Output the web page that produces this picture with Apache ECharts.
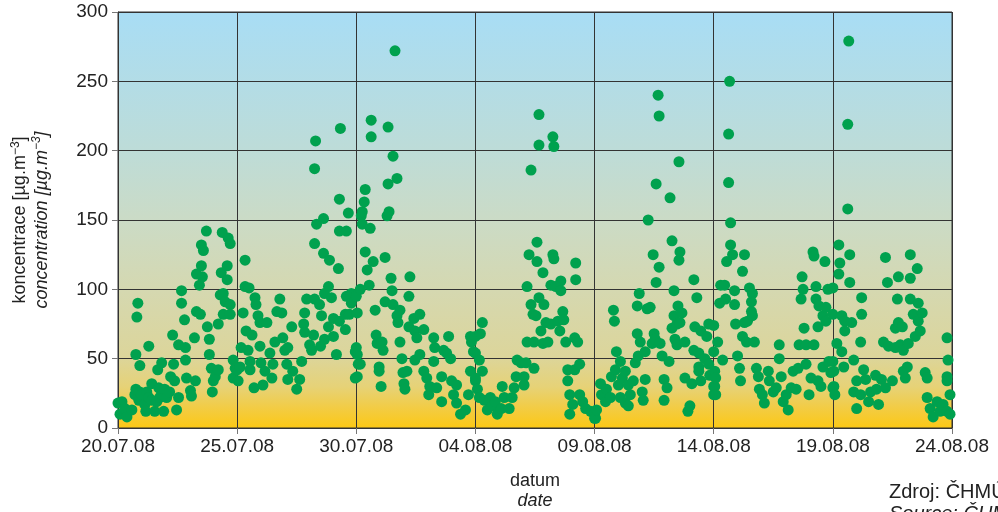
<!DOCTYPE html>
<html>
<head>
<meta charset="utf-8">
<script src="https://cdn.jsdelivr.net/npm/echarts@6/dist/echarts.min.js"></script>
<style>
  html, body { margin: 0; padding: 0; background: #fff; }
  #chart { width: 998px; height: 512px; }
</style>
</head>
<body>
<div id="chart"></div>
<script>
// x axis: hours since 20.07.08 00:00, one tick every 5 days
const xLabels = ["20.07.08", "25.07.08", "30.07.08", "04.08.08", "09.08.08", "14.08.08", "19.08.08", "24.08.08"];
const segHours = 120;

// hourly concentrations, [hour within 5-day block, value]
const seg1 = [[0,18],[2,10],[4,19],[7,14],[9,8],[14,13],[17,24],[18,28],[18,53],[19,80],[20,90],[21,20],[22,45],[22,26],[24,24],[27,17],[28,12],[29,26],[31,59],[31,22],[34,32],[34,20],[37,12],[39,19],[40,42],[41,29],[42,22],[44,47],[44,24],[46,12],[47,28],[49,22],[52,26],[53,37],[55,67],[56,46],[57,34],[59,13],[61,60],[61,22],[64,99],[64,90],[67,78],[68,58],[68,49],[69,36],[73,27],[74,23],[77,65],[78,34],[79,84],[79,111],[82,103],[83,82],[84,117],[84,132],[85,109],[86,128],[89,142],[90,73],[92,64],[92,53],[94,43],[95,26],[96,34],[98,37],[101,75],[101,42],[103,96],[104,112],[105,141],[106,97],[106,82],[108,91],[110,117],[110,107],[111,137],[113,133],[113,89],[113,82],[116,49],[116,36],[118,43]];
const seg2 = [[0,42],[1,34],[3,44],[4,58],[6,83],[8,121],[8,102],[9,70],[11,56],[12,101],[13,48],[13,42],[15,67],[17,29],[18,94],[19,89],[21,81],[23,76],[23,59],[24,47],[26,31],[28,41],[30,76],[33,54],[35,36],[36,46],[38,62],[40,84],[43,93],[45,83],[46,65],[48,56],[50,46],[51,58],[51,35],[55,73],[56,41],[60,28],[63,35],[65,48],[67,75],[68,83],[68,69],[70,93],[73,60],[75,56],[77,67],[78,93],[78,133],[79,207],[78,187],[80,147],[83,89],[84,59],[85,81],[87,151],[87,126],[88,97],[88,64],[92,102],[92,73],[93,121],[95,94],[97,79],[97,66],[100,53],[102,115],[103,165],[103,142],[103,77],[104,216],[109,71],[109,82],[110,142],[110,95],[112,155],[113,82],[115,97],[115,90],[119,55],[119,36]];
const seg3 = [[0,95],[1,83],[0,58],[1,53],[2,46],[1,37],[4,100],[4,46],[5,153],[6,156],[6,147],[8,163],[9,172],[9,127],[11,114],[13,103],[14,144],[15,222],[15,210],[17,120],[19,85],[20,67],[21,61],[23,44],[23,41],[25,30],[26,62],[27,56],[29,123],[29,91],[31,153],[32,217],[32,176],[33,156],[35,108],[36,99],[37,196],[37,89],[39,272],[41,180],[41,81],[42,76],[44,85],[44,62],[46,50],[47,40],[48,32],[49,28],[51,41],[53,95],[53,73],[54,109],[58,79],[59,70],[59,49],[61,65],[64,82],[64,53],[68,71],[68,41],[71,36],[73,24],[74,30],[78,65],[78,48],[79,58],[81,29],[86,37],[86,19],[88,56],[91,54],[93,66],[95,50],[96,34],[98,24],[101,31],[101,18],[105,10],[110,13],[113,24],[115,41],[115,66],[116,62],[118,55],[120,34]];
const seg4 = [[0,66],[0,54],[0,36],[2,28],[4,22],[4,49],[5,68],[7,76],[7,41],[9,20],[12,13],[15,22],[17,16],[20,19],[22,10],[26,14],[27,30],[29,22],[34,14],[37,22],[39,29],[41,37],[42,49],[46,47],[49,37],[49,31],[51,47],[52,62],[52,102],[54,125],[56,89],[56,186],[58,82],[59,43],[59,62],[61,81],[62,120],[62,134],[64,226],[64,204],[64,94],[66,70],[68,61],[68,112],[69,89],[71,76],[73,62],[76,75],[76,103],[78,125],[78,210],[79,122],[79,203],[81,102],[83,77],[85,70],[86,106],[86,99],[88,84],[89,78],[91,62],[93,42],[93,34],[95,24],[95,10],[98,17],[100,65],[100,42],[101,119],[101,107],[103,62],[105,46],[105,24],[108,19],[111,14],[116,12],[120,7]];
const seg5 = [[0,10],[1,7],[2,13],[6,32],[7,24],[11,19],[12,28],[16,22],[17,37],[19,85],[20,77],[21,42],[22,55],[24,31],[26,48],[26,22],[28,36],[31,41],[31,18],[34,16],[34,31],[36,24],[39,34],[41,47],[43,68],[43,88],[44,52],[45,97],[46,62],[48,26],[49,20],[51,55],[51,35],[53,86],[54,150],[56,87],[58,61],[59,125],[60,68],[61,64],[62,176],[62,105],[64,240],[65,225],[65,116],[66,61],[68,52],[70,35],[70,20],[73,29],[75,48],[76,166],[78,135],[78,72],[80,99],[80,81],[81,64],[83,75],[83,60],[84,88],[85,192],[85,121],[86,127],[86,76],[88,83],[91,62],[91,36],[94,12],[96,16],[98,32],[100,107],[100,56],[101,73],[103,94],[105,54],[105,44],[105,41],[107,70],[107,34],[111,50],[113,66],[115,75],[115,46],[116,38],[120,30],[120,24]];
const seg6 = [[0,74],[0,55],[1,41],[1,30],[2,36],[2,24],[4,62],[6,90],[7,103],[9,49],[11,103],[12,93],[13,120],[15,212],[15,177],[16,250],[17,148],[17,132],[19,125],[21,99],[21,89],[22,75],[24,52],[26,43],[27,34],[29,113],[29,66],[31,125],[31,76],[33,62],[34,77],[36,101],[38,91],[38,84],[39,97],[39,81],[41,62],[43,43],[45,37],[46,28],[49,24],[51,18],[55,41],[56,34],[60,26],[63,29],[66,60],[66,50],[68,37],[70,19],[73,24],[75,13],[78,29],[80,41],[83,28],[85,43],[86,60],[88,93],[89,109],[90,100],[91,72],[93,60],[93,46],[96,24],[98,36],[100,127],[101,124],[101,60],[103,102],[103,93],[105,73],[105,34],[106,88],[108,30],[110,81],[110,44],[112,120],[113,87],[113,77],[115,100],[116,48],[118,40],[120,29]];
const seg7 = [[0,101],[0,82],[0,48],[1,41],[1,30],[2,24],[4,61],[6,132],[6,111],[7,119],[9,81],[9,55],[11,44],[12,77],[12,70],[15,219],[15,158],[16,279],[17,125],[17,105],[19,76],[21,49],[21,26],[24,34],[24,14],[28,62],[28,24],[29,94],[29,82],[31,42],[33,35],[36,19],[38,26],[43,38],[44,28],[46,17],[49,35],[51,62],[53,123],[53,29],[55,105],[56,59],[60,34],[63,72],[63,58],[65,93],[66,109],[66,76],[68,60],[70,73],[71,56],[71,41],[73,36],[75,44],[76,61],[78,125],[78,108],[78,93],[81,82],[83,66],[85,115],[86,90],[86,77],[88,70],[90,83],[93,40],[95,36],[95,22],[98,14],[101,8],[105,19],[108,12],[111,17],[115,12],[115,65],[115,37],[115,34],[116,49],[118,24],[118,10]];

const segments = [seg1, seg2, seg3, seg4, seg5, seg6, seg7];
const points = [];
segments.forEach((seg, i) => {
  seg.forEach(([h, v]) => points.push([i * segHours + h, v]));
});

const font = "'Liberation Sans', Arial, sans-serif";
const chart = echarts.init(document.getElementById("chart"));

chart.setOption({
  animation: false,
  textStyle: { fontFamily: font },
  grid: {
    left: 118,
    right: 46,
    top: 12,
    bottom: 84,
    containLabel: false,
    outerBoundsMode: "none",
    show: true,
    borderColor: "#333",
    borderWidth: 1,
    backgroundColor: {
      type: "linear",
      x: 0, y: 0, x2: 0, y2: 1,
      colorStops: [
        { offset: 0, color: "#a8ddf5" },
        { offset: 0.33, color: "#bddcd8" },
        { offset: 0.5, color: "#cbdbc6" },
        { offset: 0.67, color: "#d5d8b0" },
        { offset: 0.83, color: "#dcd59a" },
        { offset: 0.9, color: "#e6d277" },
        { offset: 0.95, color: "#f2cc45" },
        { offset: 1, color: "#fcc814" }
      ]
    }
  },
  xAxis: {
    type: "value",
    min: 0,
    max: segHours * (xLabels.length - 1),
    interval: segHours,
    axisLine: { lineStyle: { color: "#333" } },
    axisTick: { show: true, length: 6, lineStyle: { color: "#777" } },
    splitLine: { show: true, lineStyle: { color: "#333" } },
    axisLabel: {
      formatter: v => xLabels[Math.round(v / segHours)],
      fontSize: 19,
      color: "#222",
      margin: 9
    },
    name: "{a|datum}\n{b|date}",
    nameLocation: "middle",
    nameGap: 43,
    nameTextStyle: {
      rich: {
        a: { fontSize: 18, lineHeight: 20, color: "#222" },
        b: { fontSize: 18, lineHeight: 20, color: "#222", fontStyle: "italic" }
      }
    }
  },
  yAxis: {
    type: "value",
    min: 0,
    max: 300,
    interval: 50,
    axisLine: { show: true, lineStyle: { color: "#333" } },
    axisTick: { show: true, length: 6, lineStyle: { color: "#777" } },
    splitLine: { show: true, lineStyle: { color: "#333" } },
    axisLabel: { fontSize: 19, color: "#222", margin: 10 },
    name: "{a|koncentrace [µg.m}{as|−3}{a|]}\n{b|concentration [µg.m}{bs|−3}{b|]}",
    nameLocation: "middle",
    nameRotate: 90,
    nameGap: 66,
    nameTextStyle: {
      rich: {
        a: { fontSize: 18, lineHeight: 21, color: "#222" },
        as: { fontSize: 12, lineHeight: 12, color: "#222", verticalAlign: "top" },
        b: { fontSize: 18, lineHeight: 21, color: "#222", fontStyle: "italic" },
        bs: { fontSize: 12, lineHeight: 12, color: "#222", fontStyle: "italic", verticalAlign: "top" }
      }
    }
  },
  graphic: [{
    type: "text",
    left: 889,
    top: 482,
    style: {
      text: "{a|Zdroj: ČHMÚ}\n{b|Source: ČHMÚ}",
      rich: {
        a: { fontSize: 20, lineHeight: 22, fill: "#222", fontFamily: font },
        b: { fontSize: 20, lineHeight: 22, fill: "#222", fontFamily: font, fontStyle: "italic" }
      }
    }
  }],
  series: [{
    type: "scatter",
    data: points,
    symbolSize: 11,
    itemStyle: { color: "#00a14e", opacity: 1 }
  }]
});
</script>
</body>
</html>
